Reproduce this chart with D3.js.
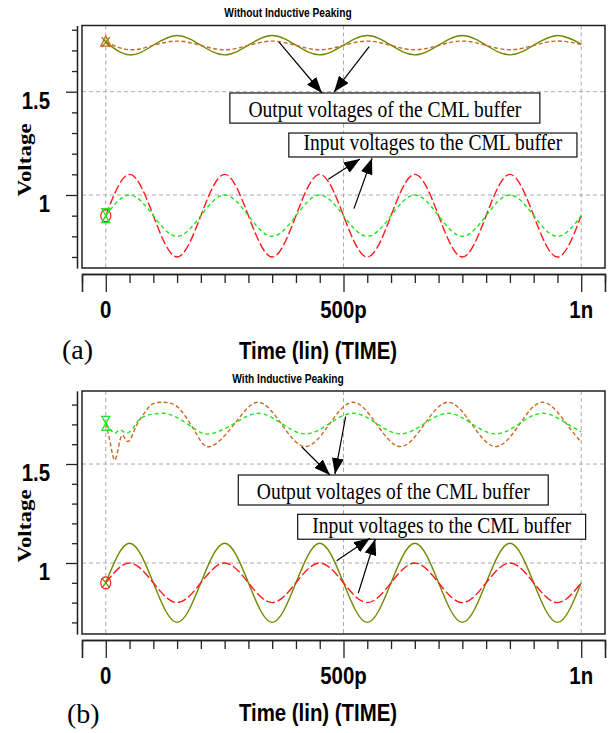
<!DOCTYPE html>
<html>
<head>
<meta charset="utf-8">
<script src="https://cdn.jsdelivr.net/npm/d3@7"></script>
<style>
  body { margin: 0; background: #fff; }
  .sans { font-family: "Liberation Sans", Arial, sans-serif; font-weight: bold; }
  .serif { font-family: "Liberation Serif", "Times New Roman", serif; }
</style>
</head>
<body>
<svg id="chart" width="610" height="733"></svg>
<script>
// time samples (ps)
const tGrid = [0, 50, 100, 150, 200, 250, 300, 350, 400, 450, 500, 550, 600, 650, 700, 750, 800, 850, 900, 950, 1000];
const tOutB = [0, 10, 19, 28, 36, 47, 60, 71, 86, 100, 120, 139, 160, 190, 220, 270, 320, 370, 420, 470, 520, 570, 620, 670, 720, 770, 820, 870, 920, 970, 1000];

// (a) without inductive peaking
const outA_olive  = [1.74, 1.678, 1.725, 1.772, 1.725, 1.678, 1.725, 1.772, 1.725, 1.678, 1.725, 1.772, 1.725, 1.678, 1.725, 1.772, 1.725, 1.678, 1.725, 1.772, 1.73];
const outA_orange = [1.74, 1.703, 1.724, 1.745, 1.724, 1.703, 1.724, 1.745, 1.724, 1.703, 1.724, 1.745, 1.724, 1.703, 1.724, 1.745, 1.724, 1.703, 1.724, 1.745, 1.728];
const inA_red     = [0.9, 1.1, 0.9, 0.7, 0.9, 1.1, 0.9, 0.7, 0.9, 1.1, 0.9, 0.7, 0.9, 1.1, 0.9, 0.7, 0.9, 1.1, 0.9, 0.7, 0.9];
const inA_green   = [0.9, 1.0, 0.9, 0.8, 0.9, 1.0, 0.9, 0.8, 0.9, 1.0, 0.9, 0.8, 0.9, 1.0, 0.9, 0.8, 0.9, 1.0, 0.9, 0.8, 0.9];

// (b) with inductive peaking
const outB_orange = [1.705, 1.60, 1.52, 1.60, 1.645, 1.613, 1.67, 1.722, 1.773, 1.805, 1.812, 1.805, 1.765, 1.655, 1.588, 1.70, 1.812, 1.70, 1.588, 1.70, 1.812, 1.70, 1.588, 1.70, 1.812, 1.70, 1.588, 1.70, 1.812, 1.70, 1.61];
const outB_green  = [1.705, 1.675, 1.655, 1.672, 1.665, 1.658, 1.69, 1.726, 1.745, 1.752, 1.756, 1.747, 1.72, 1.673, 1.652, 1.704, 1.756, 1.704, 1.652, 1.704, 1.756, 1.704, 1.652, 1.704, 1.756, 1.704, 1.652, 1.704, 1.756, 1.704, 1.662];
const inB_olive   = [0.9, 1.1, 0.9, 0.7, 0.9, 1.1, 0.9, 0.7, 0.9, 1.1, 0.9, 0.7, 0.9, 1.1, 0.9, 0.7, 0.9, 1.1, 0.9, 0.7, 0.9];
const inB_red     = [0.9, 1.0, 0.9, 0.8, 0.9, 1.0, 0.9, 0.8, 0.9, 1.0, 0.9, 0.8, 0.9, 1.0, 0.9, 0.8, 0.9, 1.0, 0.9, 0.8, 0.9];

// axis ticks
const xMinor = [-50, 50, 100, 150, 200, 250, 300, 350, 400, 450, 550, 600, 650, 700, 750, 800, 850, 900, 950, 1050];
const xMajor = [0, 500, 1000];
const xLabels = ["0", "500p", "1n"];
const yMinor = [0.7, 0.8, 0.9, 1.1, 1.2, 1.3, 1.4, 1.6, 1.7, 1.8];
const yMajor = [1, 1.5];
const yLabels = ["1", "1.5"];

const OLIVE = "#6f8a00", ORANGE = "#c8691e", RED = "#ff1a1a", GREEN = "#1ee61e";
const SQ = 0.85; // the original figure is squeezed horizontally

const svg = d3.select("#chart");
svg.append("rect").attr("width", 610).attr("height", 733).attr("fill", "#fff");
svg.append("defs").append("marker")
  .attr("id", "head").attr("viewBox", "0 0 16 12")
  .attr("refX", 16).attr("refY", 6)
  .attr("markerWidth", 16).attr("markerHeight", 12)
  .attr("markerUnits", "userSpaceOnUse").attr("orient", "auto")
  .append("path").attr("d", "M0,0L16,6L0,12Z").attr("fill", "#000");

function squish(sel, x, y) {
  return sel.attr("transform", `translate(${x},${y}) scale(${SQ},1)`);
}

const panels = [
  {
    title: "Without Inductive Peaking", letter: "(a)", top: 25.5, bottom: 268,
    vDomain: [0.6467, 1.8204], timeY: 359, letterX: 62, letterY: 359, voltY: 160,
    series: [
      {t: tGrid, v: outA_olive, color: OLIVE, dash: null, mark: "x"},
      {t: tGrid, v: outA_orange, color: ORANGE, dash: "4,2.5", mark: "tri"},
      {t: tGrid, v: inA_red, color: RED, dash: "9,3", mark: "circle"},
      {t: tGrid, v: inA_green, color: GREEN, dash: "4,3", mark: "glass"}
    ],
    boxes: [
      {t0: 261, t1: 913, v0: 1.4937, v1: 1.348, text: "Output voltages of the CML buffer"},
      {t0: 385, t1: 991, v0: 1.30, v1: 1.184, text: "Input voltages to the CML buffer"}
    ],
    arrows: [
      [[364, 1.7406], [454.7, 1.4937]], [[554, 1.718], [480, 1.4985]],
      [[468, 1.076], [534.6, 1.174]], [[522, 0.934], [560, 1.178]]
    ]
  },
  {
    title: "With Inductive Peaking", letter: "(b)", top: 391, bottom: 634,
    vDomain: [0.6414, 1.8687], timeY: 721, letterX: 67, letterY: 723, voltY: 526,
    series: [
      {t: tOutB, v: outB_orange, color: ORANGE, dash: "4,2.5", mark: null},
      {t: tOutB, v: outB_green, color: GREEN, dash: "4,3", mark: "glass"},
      {t: tGrid, v: inB_olive, color: OLIVE, dash: null, mark: "x"},
      {t: tGrid, v: inB_red, color: RED, dash: "9,3", mark: "circle"}
    ],
    boxes: [
      {t0: 278.7, t1: 930.6, v0: 1.4444, v1: 1.2929, text: "Output voltages of the CML buffer"},
      {t0: 403.6, t1: 1009.3, v0: 1.246, v1: 1.12, text: "Input voltages to the CML buffer"}
    ],
    arrows: [
      [[412, 1.587], [471.5, 1.4444]], [[504.5, 1.739], [482, 1.449]],
      [[485.6, 1.0116], [555.6, 1.125]], [[531, 0.847], [566.8, 1.121]]
    ]
  }
];

const markPaths = {
  x: "M-4,-5L4,5M4,-5L-4,5",
  tri: "M0,-6L5,4L-5,4Z",
  glass: "M-4,-7L4,-7L-4,7L4,7Z"
};

panels.forEach(p => {
  const x = d3.scaleLinear().domain([-50, 1050]).range([82, 605]);
  const y = d3.scaleLinear().domain(p.vDomain).range([p.bottom, p.top]);
  const g = svg.append("g");

  // title
  squish(g.append("text"), 288, p.top - 8.5)
    .attr("class", "sans").attr("text-anchor", "middle")
    .style("font-size", "12px").text(p.title);

  // grid
  g.selectAll(".vg").data(xMajor).join("line")
    .attr("x1", d => x(d)).attr("x2", d => x(d))
    .attr("y1", p.top).attr("y2", p.bottom)
    .attr("stroke", "#aaa").attr("stroke-dasharray", "4,3");
  g.selectAll(".hg").data(yMajor).join("line")
    .attr("x1", 82).attr("x2", 605)
    .attr("y1", d => y(d)).attr("y2", d => y(d))
    .attr("stroke", "#aaa").attr("stroke-dasharray", "4,3");

  // traces
  const line = d3.line().curve(d3.curveNatural);
  p.series.forEach(s => {
    const pts = s.t.map((t, i) => [x(t), y(s.v[i])]);
    g.append("path").attr("d", line(pts))
      .attr("fill", "none").attr("stroke", s.color).attr("stroke-width", 1.4)
      .attr("stroke-dasharray", s.dash);
  });
  p.series.forEach(s => {
    if (!s.mark) return;
    const cx = x(s.t[0]), cy = y(s.v[0]);
    if (s.mark === "circle") {
      g.append("ellipse").attr("cx", cx).attr("cy", cy).attr("rx", 5).attr("ry", 6)
        .attr("fill", "none").attr("stroke", s.color).attr("stroke-width", 1.2);
    } else {
      g.append("path").attr("d", markPaths[s.mark])
        .attr("transform", `translate(${cx},${cy})`)
        .attr("fill", "none").attr("stroke", s.color).attr("stroke-width", 1.3);
    }
  });

  // frame
  g.append("rect").attr("x", 82).attr("y", p.top)
    .attr("width", 605 - 82).attr("height", p.bottom - p.top)
    .attr("fill", "none").attr("stroke", "#222").attr("stroke-width", 1.5);

  // y axis
  g.append("g").attr("transform", "translate(77,0)")
    .call(d3.axisLeft(y).tickValues(yMinor).tickSize(5).tickSizeOuter(0).tickFormat(""))
    .call(a => a.selectAll("line,path").attr("stroke", "#222").attr("stroke-width", 1.3));
  g.append("g").attr("transform", "translate(77,0)")
    .call(d3.axisLeft(y).tickValues(yMajor).tickSize(11).tickSizeOuter(0).tickFormat(""))
    .call(a => a.selectAll("line,path").attr("stroke", "#222").attr("stroke-width", 1.3));
  yMajor.forEach((v, i) => {
    squish(g.append("text"), 50, y(v) + 17)
      .attr("class", "sans").attr("text-anchor", "end")
      .style("font-size", "24px").text(yLabels[i]);
  });
  g.append("text")
    .attr("transform", `translate(31,${p.voltY}) scale(${SQ},1) rotate(-90)`)
    .attr("class", "serif").attr("text-anchor", "middle")
    .style("font-size", "23px").style("font-weight", "bold").text("Voltage");

  // x axis (separate strip under the frame)
  const axY = p.bottom + 6;
  g.append("g").attr("transform", `translate(0,${axY})`)
    .call(d3.axisBottom(x).tickValues(xMinor).tickSize(9).tickSizeOuter(18).tickFormat(""))
    .call(a => a.selectAll("line,path").attr("stroke", "#222").attr("stroke-width", 1.3));
  g.append("g").attr("transform", `translate(0,${axY})`)
    .call(d3.axisBottom(x).tickValues(xMajor).tickSize(18).tickSizeOuter(18).tickFormat(""))
    .call(a => a.selectAll("line,path").attr("stroke", "#222").attr("stroke-width", 1.3));
  xMajor.forEach((t, i) => {
    squish(g.append("text"), x(t), axY + 44)
      .attr("class", "sans").attr("text-anchor", "middle")
      .style("font-size", "24px").text(xLabels[i]);
  });
  squish(g.append("text"), 318, p.timeY)
    .attr("class", "sans").attr("text-anchor", "middle")
    .style("font-size", "24px").text("Time (lin) (TIME)");
  g.append("text").attr("x", p.letterX).attr("y", p.letterY)
    .attr("class", "serif").style("font-size", "28px").text(p.letter);

  // annotations
  p.boxes.forEach(b => {
    const bx0 = x(b.t0), bx1 = x(b.t1), by0 = y(b.v0), by1 = y(b.v1);
    g.append("rect").attr("x", bx0).attr("y", by0)
      .attr("width", bx1 - bx0).attr("height", by1 - by0)
      .attr("fill", "#fff").attr("stroke", "#111").attr("stroke-width", 1.2);
    squish(g.append("text"), (bx0 + bx1) / 2, by1 - 6.5)
      .attr("class", "serif").attr("text-anchor", "middle")
      .style("font-size", "23px").text(b.text);
  });
  p.arrows.forEach(a => {
    g.append("line")
      .attr("x1", x(a[0][0])).attr("y1", y(a[0][1]))
      .attr("x2", x(a[1][0])).attr("y2", y(a[1][1]))
      .attr("stroke", "#000").attr("stroke-width", 1.2)
      .attr("marker-end", "url(#head)");
  });
});
</script>
</body>
</html>
